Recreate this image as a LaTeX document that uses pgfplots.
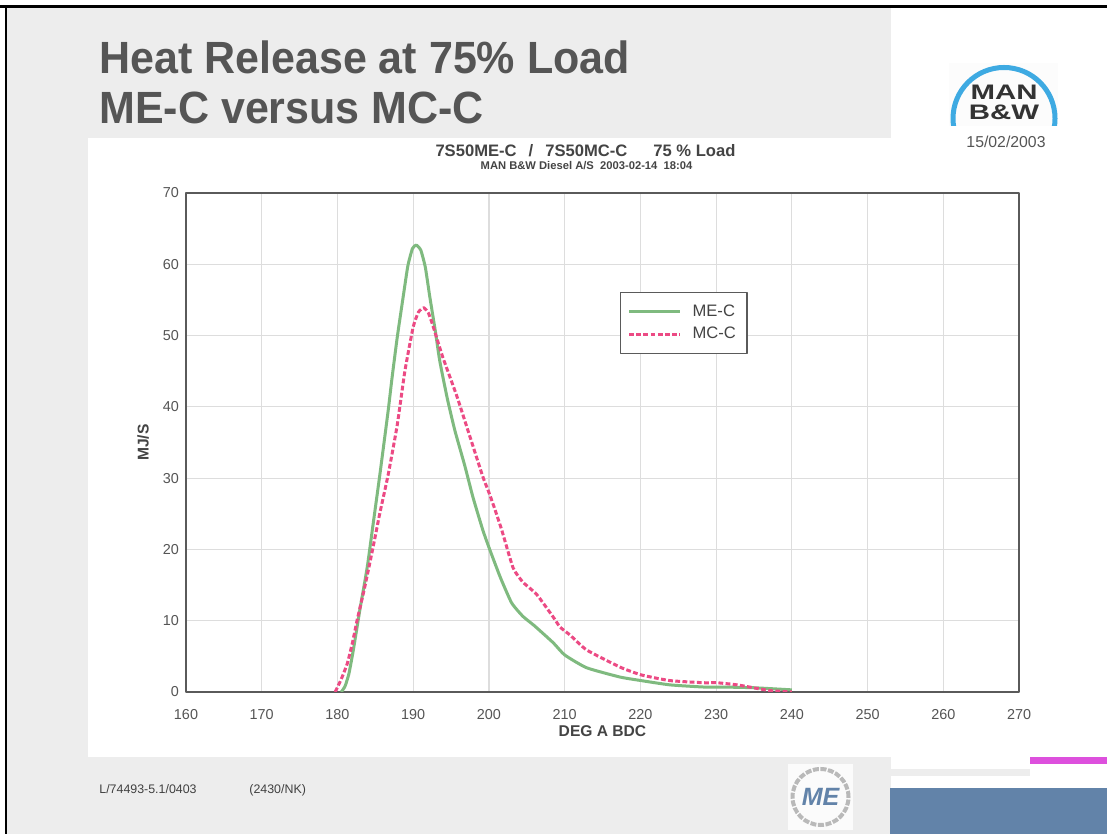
\documentclass[border=0pt]{standalone}
\usepackage{fontspec}
\setmainfont{Liberation Sans}
\usepackage{pgfplots}
\pgfplotsset{compat=1.18}
\definecolor{slidegray}{HTML}{EDEDED}
\definecolor{titlegray}{HTML}{555555}
\definecolor{textgray}{HTML}{444444}
\definecolor{mec}{HTML}{7FBA7F}
\definecolor{mcc}{HTML}{EC4A84}
\definecolor{gridgray}{HTML}{DDDDDD}
\definecolor{framegray}{HTML}{5A5A5A}
\definecolor{barpink}{HTML}{DD50DD}
\definecolor{barblue}{HTML}{6283A9}
\definecolor{logoblue}{HTML}{3EAAE2}
\begin{document}
\begin{tikzpicture}[x=0.5pt,y=0.5pt]
\useasboundingbox (0,0) rectangle (1107,834);
\fill[white] (0,0) rectangle (1107,834);
\fill[slidegray] (6,0) rectangle (891,826);
\fill[white] (88,77) rectangle (891,696);
\fill[black] (0,826) rectangle (1107,829);
\fill[black] (5,0) rectangle (7,829);
\fill[barpink] (1030,70) rectangle (1107,77);
\fill[slidegray] (891,58) rectangle (1030,65);
\fill[barblue] (890,0) rectangle (1107,46);
% titles
\node[anchor=base west, font=\fontsize{21.5}{26}\selectfont\bfseries, text=titlegray, inner sep=0, yscale=1.05] at (99,760) {Heat Release at 75\% Load};
\node[anchor=base west, font=\fontsize{21.5}{26}\selectfont\bfseries, text=titlegray, inner sep=0, yscale=1.05] at (99,710) {ME-C versus MC-C};
% MAN B&W logo
\fill[white!98!gray] (949,708) rectangle (1058,771);
\begin{scope}
\clip (949,708) rectangle (1058,771);
\draw[logoblue, line width=2.5pt] (1004,715.5) circle [radius=51];
\node[font=\fontsize{10.5}{12}\selectfont\bfseries, text=black!80, xscale=1.4, inner sep=0] at (1004,741.5) {MAN};
\node[font=\fontsize{10.5}{12}\selectfont\bfseries, text=black!80, xscale=1.4, inner sep=0] at (1004,721.5) {B\&W};
\end{scope}
\node[anchor=base, font=\fontsize{7.9}{9}\selectfont, text=titlegray, inner sep=0] at (1006,686) {15/02/2003};
% chart titles
\node[anchor=base, font=\fontsize{8.3}{10}\selectfont\bfseries, text=textgray, inner sep=0] at (585.5,677) {7S50ME-C\hspace{6pt}/\hspace{6pt}7S50MC-C\hspace{13pt}75 \% Load};
\node[anchor=base, font=\fontsize{5.6}{7}\selectfont\bfseries, text=textgray, inner sep=0] at (586.5,664) {MAN B\&W Diesel A/S\ \ 2003-02-14\ \ 18:04};
% footer
\node[anchor=base west, font=\fontsize{6.2}{7}\selectfont, text=black!75, inner sep=0] at (99,40) {L/74493-5.1/0403};
\node[anchor=base west, font=\fontsize{6.2}{7}\selectfont, text=black!75, inner sep=0] at (249,40) {(2430/NK)};
% ME logo
\fill[white!97!gray] (788,4) rectangle (853,70);
\draw[gray!55, line width=2pt, dash pattern=on 3pt off 0.8pt] (820.5,37) circle [radius=28];
\node[font=\fontsize{12.5}{14}\selectfont\bfseries\itshape, text=barblue, inner sep=0] at (820.5,37) {ME};
\begin{axis}[
  at={(93pt,71pt)}, anchor=south west,
  width=416.5pt, height=249.5pt, scale only axis,
  xmin=160, xmax=270, ymin=0, ymax=70,
  xtick distance=10, ytick distance=10,
  grid=major,
  major grid style={gridgray, line width=0.6pt},
  axis line style={framegray, line width=0.7pt},
  major tick length=0pt,
  tick label style={font=\fontsize{7.2}{8}\selectfont, text=titlegray},
  xticklabel style={yshift=-5pt},
  /pgf/number format/assume math mode=true,
  xlabel={DEG A BDC}, ylabel={MJ/S},
  xlabel style={font=\fontsize{7.8}{9}\selectfont\bfseries, text=textgray, at={(axis description cs:0.5,-0.0882)}, anchor=base},
  ylabel style={font=\fontsize{7.8}{9}\selectfont\bfseries, text=textgray, at={(axis description cs:-0.0516,0.5)}, anchor=center},
  legend style={at={(0.521,0.8016)}, anchor=north west, draw=framegray, line width=0.6pt, fill=white,
    font=\fontsize{8.3}{10}\selectfont, text=textgray, cells={anchor=west}, inner xsep=3.5pt, inner ysep=4pt, row sep=0pt,
    /tikz/every odd column/.append style={column sep=3.5pt}},
  legend image code/.code={\draw[#1] (0pt,0pt) -- (25.5pt,0pt);},
  line join=round,
]
\addplot[mec, line width=1.5pt, smooth, tension=0.3] coordinates {
(180.5,0) (181.0,0.8) (181.5,2.5) (182.0,5.3) (182.5,8.5) (183.0,11.8) (183.5,14.8) (184.0,18.0)
(184.6,22.7) (185.6,30.5) (186.7,39.5) (187.2,44.0) (187.9,49.8) (188.7,55.6) (189.3,59.8)
(189.9,62.2) (190.4,62.7) (191.0,62.0) (191.6,59.6) (192.2,55.4) (192.9,50.8) (193.5,46.5)
(194.5,41.2) (195.5,36.7) (196.8,31.8) (197.9,27.3) (199.2,22.7) (200.0,20.3) (201.5,16.1)
(203.0,12.5) (204.5,10.6) (206.0,9.3) (208.5,6.9) (210.0,5.2) (212.9,3.4) (217.3,2.1)
(220.1,1.6) (223.9,1.0) (228.3,0.7) (230.5,0.7) (234.9,0.6) (240.0,0.3)
};
\addlegendentry{ME-C}
\addplot[mcc, line width=1.5pt, dash pattern=on 2.4pt off 1.2pt, smooth, tension=0.3] coordinates {
(179.7,0) (180.5,1.8) (181.3,4.0) (182.0,7.0) (182.6,10.1) (183.6,14.7) (184.7,20.3)
(185.6,25.1) (186.7,30.5) (187.9,37.5) (188.9,45.0) (190.0,51.2) (190.7,53.3) (191.4,53.9)
(192.0,53.2) (192.6,51.4) (193.9,47.0) (195.8,41.4) (197.5,35.8) (199.2,30.2) (200.0,28.0)
(200.8,25.6) (201.7,22.7) (203.2,17.4) (204.5,15.4) (206.3,13.7) (208.5,10.5) (209.4,9.1)
(210.7,8.0) (212.9,5.9) (217.3,3.5) (220.1,2.4) (223.9,1.6) (228.3,1.3) (230.1,1.3)
(232.8,1.0) (234.9,0.6) (237.1,0.2) (240.0,0)
};
\addlegendentry{MC-C}
\end{axis}
\end{tikzpicture}
\end{document}
